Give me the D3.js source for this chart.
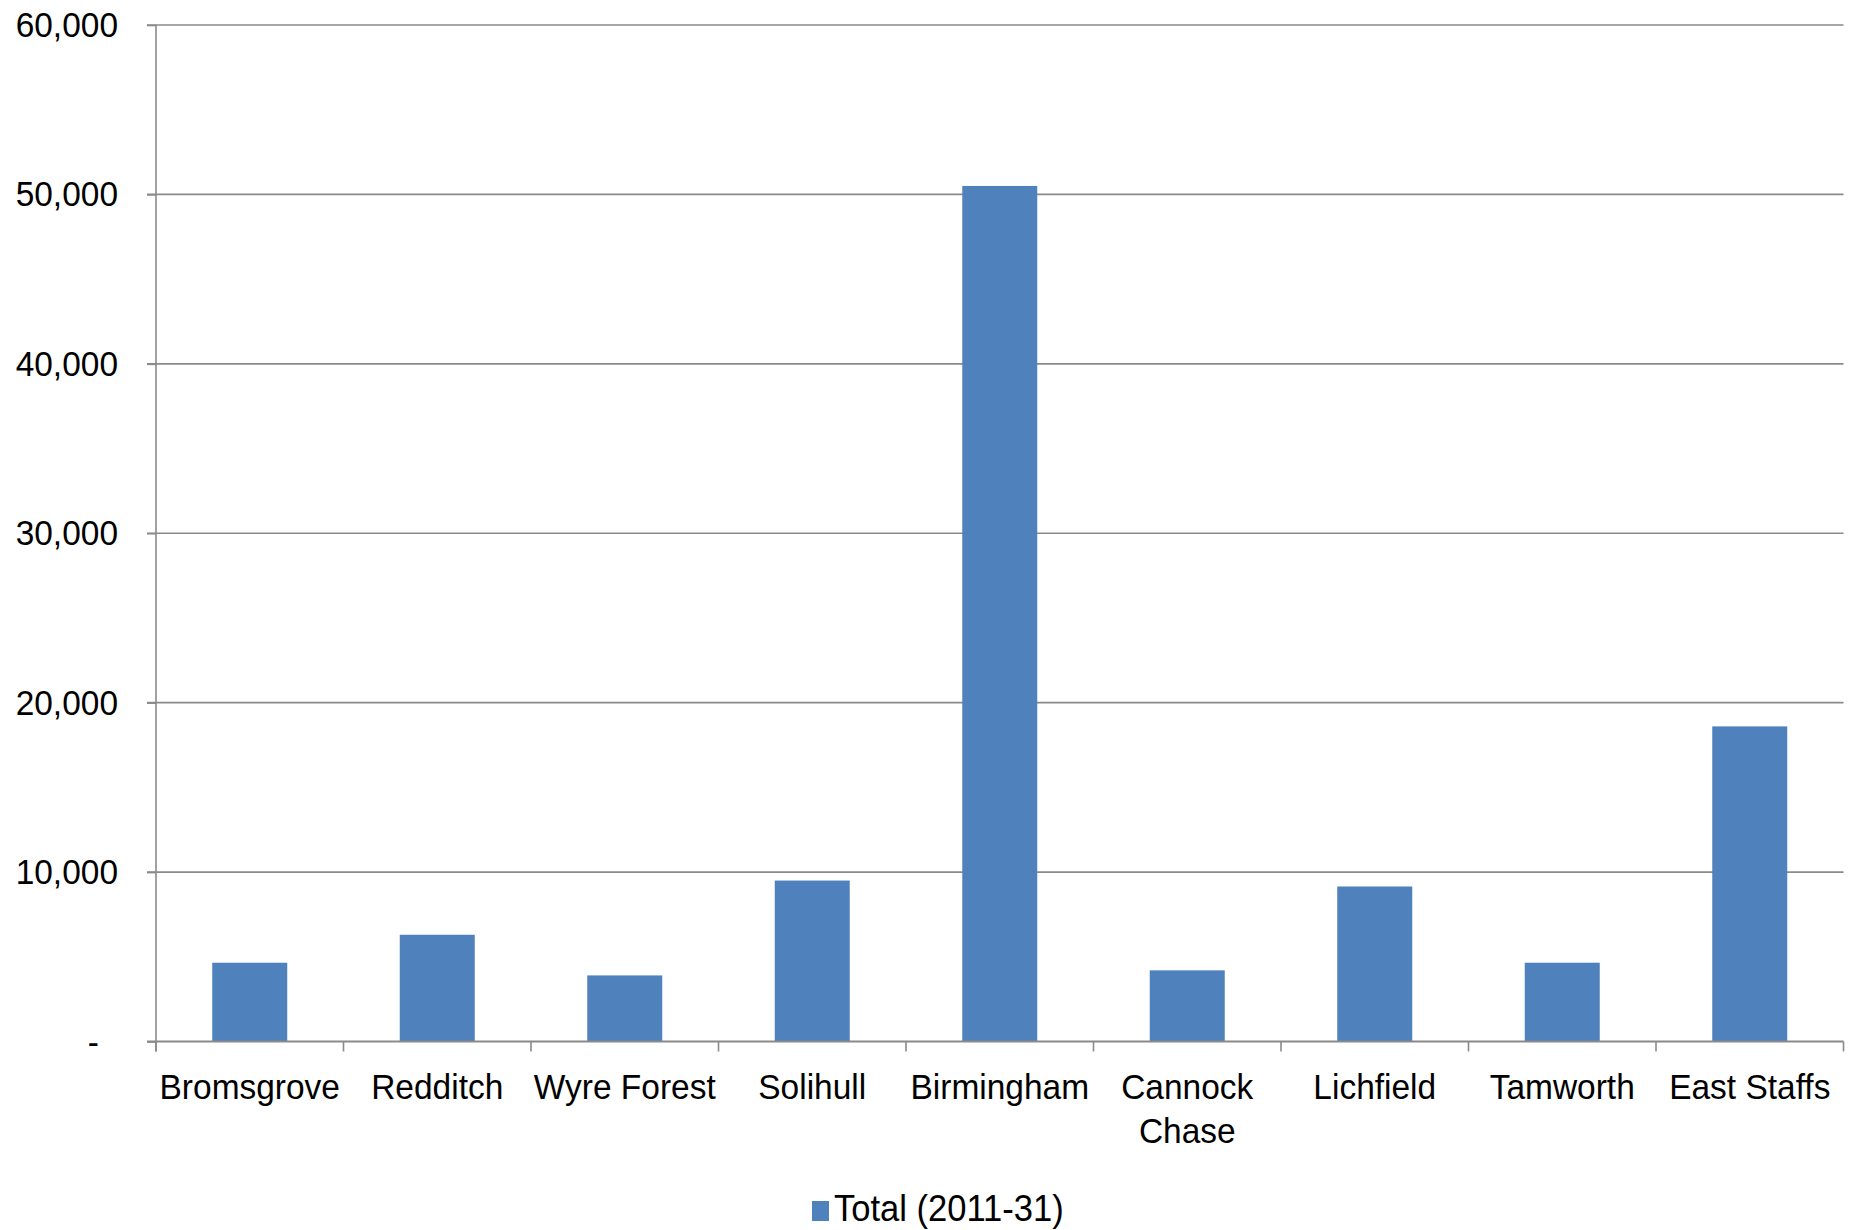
<!DOCTYPE html>
<html>
<head>
<meta charset="utf-8">
<script src="https://cdn.jsdelivr.net/npm/d3@7"></script>
<style>
  html, body { margin: 0; padding: 0; background: #fff; }
  svg { display: block; }
  text { font-family: "Liberation Sans", Arial, sans-serif; fill: #000; }
</style>
</head>
<body>
<svg id="chart" width="1864" height="1230"></svg>
<script>
// Housing totals by local authority, 2011-31
const categories = ["Bromsgrove", "Redditch", "Wyre Forest", "Solihull", "Birmingham",
                    "Cannock Chase", "Lichfield", "Tamworth", "East Staffs"];
const totals = [4650, 6300, 3900, 9500, 50500, 4200, 9150, 4650, 18600];
const yTicks = [0, 10000, 20000, 30000, 40000, 50000, 60000];
const seriesName = "Total (2011-31)";

const W = 1864, H = 1230;
const plot = { left: 156, right: 1843.5, top: 25, bottom: 1041.5 };
const barColor = "#4F81BD";
const gridColor = "#8a8a8a";
const fontSize = 36;
const squeeze = 0.93;

const svg = d3.select("#chart");

const x = d3.scaleBand().domain(categories).range([plot.left, plot.right]).padding(0);
const y = d3.scaleLinear().domain([0, 60000]).range([plot.bottom, plot.top]);

// horizontal gridlines
svg.append("g")
  .selectAll("line")
  .data(yTicks.filter(v => v > 0))
  .join("line")
  .attr("x1", plot.left - 9)
  .attr("x2", plot.right)
  .attr("y1", d => y(d))
  .attr("y2", d => y(d))
  .attr("stroke", gridColor)
  .attr("stroke-width", 1.6);

// bars: 40% of each category slot, centred
const barW = x.bandwidth() * 0.4;
svg.append("g")
  .selectAll("rect")
  .data(categories.map((c, i) => ({ c, v: totals[i] })))
  .join("rect")
  .attr("x", d => x(d.c) + (x.bandwidth() - barW) / 2)
  .attr("width", barW)
  .attr("y", d => y(d.v))
  .attr("height", d => y(0) - y(d.v))
  .attr("fill", barColor);

// y axis
const yAxis = svg.append("g")
  .attr("transform", `translate(${plot.left},0)`)
  .call(d3.axisLeft(y)
    .tickValues(yTicks)
    .tickSize(9)
    .tickPadding(30)
    .tickFormat(d => d === 0 ? "-" : d3.format(",")(d)));
yAxis.select(".domain").attr("stroke", gridColor).attr("stroke-width", 1.6)
  .attr("d", `M0,${plot.top}V${plot.bottom + 10}`);
yAxis.selectAll(".tick line").attr("stroke", gridColor).attr("stroke-width", 1.6);
yAxis.selectAll(".tick text")
  .attr("font-size", fontSize)
  .attr("font-family", "Liberation Sans, Arial, sans-serif")
  .attr("fill", "#000")
  .attr("transform", `scale(${squeeze},1)`)
  .attr("x", -38 / squeeze)
  .attr("dx", d => d === 0 ? -19 / squeeze : 0);

// x axis
const xAxis = svg.append("g")
  .attr("transform", `translate(0,${plot.bottom})`)
  .call(d3.axisBottom(x).tickSize(0).tickPadding(32));
xAxis.select(".domain").attr("stroke", gridColor).attr("stroke-width", 2.2)
  .attr("d", `M${plot.left - 9},0H${plot.right}`);

// category separators below the axis
svg.append("g")
  .selectAll("line")
  .data(d3.range(categories.length + 1))
  .join("line")
  .attr("x1", i => plot.left + i * x.step())
  .attr("x2", i => plot.left + i * x.step())
  .attr("y1", plot.bottom)
  .attr("y2", plot.bottom + 10)
  .attr("stroke", gridColor)
  .attr("stroke-width", 1.6);

xAxis.selectAll(".tick text")
  .attr("font-size", fontSize)
  .attr("font-family", "Liberation Sans, Arial, sans-serif")
  .attr("fill", "#000")
  .attr("transform", `scale(${squeeze},1)`)
  .each(function(d) {
    const t = d3.select(this);
    const len = this.getComputedTextLength() * squeeze;
    if (len > x.step() - 4 && d.includes(" ")) {
      const words = d.split(" ");
      const yAttr = t.attr("y");
      t.text(null);
      words.forEach((w, i) => {
        t.append("tspan")
          .attr("x", 0)
          .attr("y", yAttr)
          .attr("dy", `${0.71 + i * 1.22}em`)
          .text(w);
      });
    }
  });

// legend
const legendSqueeze = 0.96;
const legend = svg.append("g").attr("transform", "translate(812,1201)");
legend.append("rect")
  .attr("width", 17).attr("height", 20)
  .attr("fill", barColor);
legend.append("text")
  .attr("x", 22 / legendSqueeze)
  .attr("y", 20)
  .attr("font-size", fontSize)
  .attr("transform", `scale(${legendSqueeze},1)`)
  .text(seriesName);
</script>
</body>
</html>
